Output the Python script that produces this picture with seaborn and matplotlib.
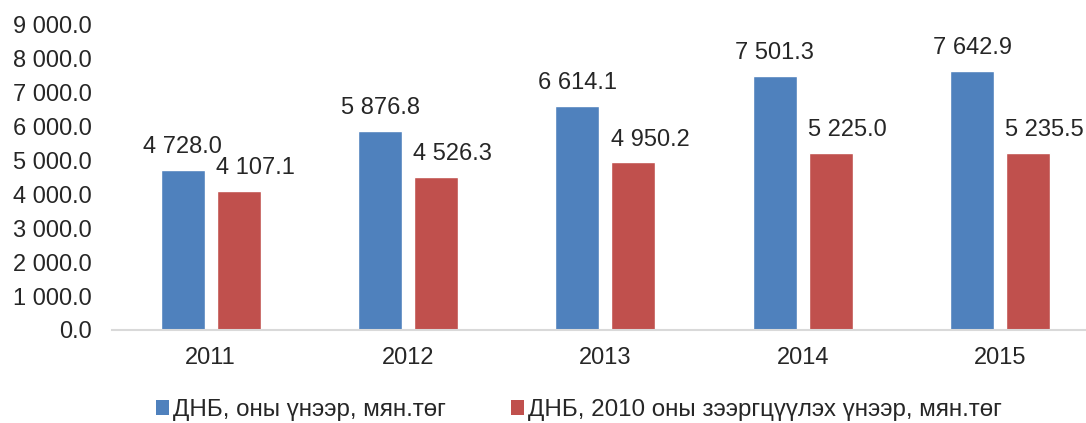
import matplotlib
matplotlib.use("Agg")
import matplotlib.pyplot as plt
import matplotlib.ticker as mticker
from matplotlib.patches import Patch
import pandas as pd
import seaborn as sns

# Data
years = ["2011", "2012", "2013", "2014", "2015"]
current_prices = [4728.0, 5876.8, 6614.1, 7501.3, 7642.9]
constant_prices = [4107.1, 4526.3, 4950.2, 5225.0, 5235.5]
series_names = ["ДНБ, оны үнээр, мян.төг", "ДНБ, 2010 оны зээргцүүлэх үнээр, мян.төг"]
colors = ["#4F81BD", "#C0504D"]


def fmt(v):
    return f"{v:,.1f}".replace(",", " ")


sns.set_style("white")
plt.rcParams["font.family"] = ["Liberation Sans", "DejaVu Sans"]

df = pd.DataFrame({
    "year": years * 2,
    "value": current_prices + constant_prices,
    "series": [series_names[0]] * len(years) + [series_names[1]] * len(years),
})

fig = plt.figure(figsize=(10.86, 4.23), dpi=100)
ax = fig.add_axes([0.1031, 0.2199, 0.9088, 0.7210])

sns.barplot(data=df, x="year", y="value", hue="series", palette=colors,
            width=0.567, gap=0.214, ax=ax, legend=False, saturation=1)

ax.set_xlim(-0.5, 4.5)
ax.set_ylim(0, 9000)
ax.yaxis.set_major_locator(mticker.MultipleLocator(1000))
ax.yaxis.set_major_formatter(mticker.FuncFormatter(lambda v, p: fmt(v)))
ax.set_xlabel("")
ax.set_ylabel("")
ax.tick_params(axis="y", length=0, pad=14.5, labelsize=17)
ax.tick_params(axis="x", length=0, pad=12, labelsize=17)

for s in ["top", "right", "left"]:
    ax.spines[s].set_visible(False)
ax.spines["bottom"].set_color("#D9D9D9")
ax.spines["bottom"].set_linewidth(1.5)

# value labels above bars
for i, cont in enumerate(ax.containers):
    dx = 0 if i == 0 else 12
    for bar in cont:
        h = bar.get_height()
        ax.annotate(fmt(h), (bar.get_x() + bar.get_width() / 2, h),
                    xytext=(dx, 12), textcoords="offset points",
                    ha="center", va="baseline", fontsize=17)

handles = [Patch(facecolor=c, edgecolor="none") for c in colors]
fig.legend(handles, series_names, loc="center", bbox_to_anchor=(0.533, 0.031),
           ncol=2, frameon=False, fontsize=17.4, handlelength=0.55,
           handleheight=0.55, handletextpad=0.15, columnspacing=2.7,
           borderpad=0, borderaxespad=0)

fig.savefig("out.png", dpi=100)
